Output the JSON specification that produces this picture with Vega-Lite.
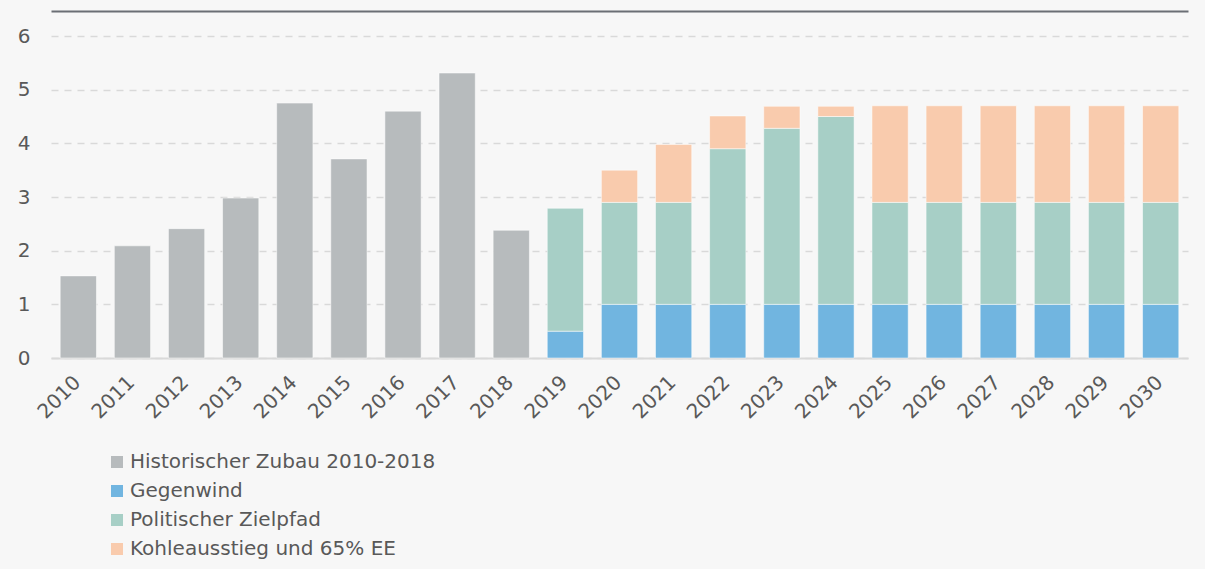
{
  "$schema": "https://vega.github.io/schema/vega-lite/v6.json",
  "width": 1137,
  "height": 322,
  "autosize": "none",
  "padding": {"left": 51, "top": 36, "right": 17, "bottom": 211},
  "background": "#f7f7f7",
  "config": {
    "font": "DejaVu Sans",
    "view": {"stroke": null},
    "axis": {"labelColor": "#595959", "labelFont": "DejaVu Sans"},
    "legend": {"labelFont": "DejaVu Sans"}
  },
  "data": {
    "values": [
      {"year": "2010", "series": "Historischer Zubau 2010-2018", "value": 1.53},
      {"year": "2011", "series": "Historischer Zubau 2010-2018", "value": 2.09},
      {"year": "2012", "series": "Historischer Zubau 2010-2018", "value": 2.41},
      {"year": "2013", "series": "Historischer Zubau 2010-2018", "value": 2.98},
      {"year": "2014", "series": "Historischer Zubau 2010-2018", "value": 4.75},
      {"year": "2015", "series": "Historischer Zubau 2010-2018", "value": 3.71},
      {"year": "2016", "series": "Historischer Zubau 2010-2018", "value": 4.6},
      {"year": "2017", "series": "Historischer Zubau 2010-2018", "value": 5.31},
      {"year": "2018", "series": "Historischer Zubau 2010-2018", "value": 2.38},
      {"year": "2019", "series": "Gegenwind", "value": 0.5},
      {"year": "2020", "series": "Gegenwind", "value": 1.0},
      {"year": "2021", "series": "Gegenwind", "value": 1.0},
      {"year": "2022", "series": "Gegenwind", "value": 1.0},
      {"year": "2023", "series": "Gegenwind", "value": 1.0},
      {"year": "2024", "series": "Gegenwind", "value": 1.0},
      {"year": "2025", "series": "Gegenwind", "value": 1.0},
      {"year": "2026", "series": "Gegenwind", "value": 1.0},
      {"year": "2027", "series": "Gegenwind", "value": 1.0},
      {"year": "2028", "series": "Gegenwind", "value": 1.0},
      {"year": "2029", "series": "Gegenwind", "value": 1.0},
      {"year": "2030", "series": "Gegenwind", "value": 1.0},
      {"year": "2019", "series": "Politischer Zielpfad", "value": 2.29},
      {"year": "2020", "series": "Politischer Zielpfad", "value": 1.9},
      {"year": "2021", "series": "Politischer Zielpfad", "value": 1.9},
      {"year": "2022", "series": "Politischer Zielpfad", "value": 2.9},
      {"year": "2023", "series": "Politischer Zielpfad", "value": 3.28},
      {"year": "2024", "series": "Politischer Zielpfad", "value": 3.5},
      {"year": "2025", "series": "Politischer Zielpfad", "value": 1.9},
      {"year": "2026", "series": "Politischer Zielpfad", "value": 1.9},
      {"year": "2027", "series": "Politischer Zielpfad", "value": 1.9},
      {"year": "2028", "series": "Politischer Zielpfad", "value": 1.9},
      {"year": "2029", "series": "Politischer Zielpfad", "value": 1.9},
      {"year": "2030", "series": "Politischer Zielpfad", "value": 1.9},
      {"year": "2020", "series": "Kohleausstieg und 65% EE", "value": 0.6},
      {"year": "2021", "series": "Kohleausstieg und 65% EE", "value": 1.08},
      {"year": "2022", "series": "Kohleausstieg und 65% EE", "value": 0.61},
      {"year": "2023", "series": "Kohleausstieg und 65% EE", "value": 0.41},
      {"year": "2024", "series": "Kohleausstieg und 65% EE", "value": 0.19},
      {"year": "2025", "series": "Kohleausstieg und 65% EE", "value": 1.8},
      {"year": "2026", "series": "Kohleausstieg und 65% EE", "value": 1.8},
      {"year": "2027", "series": "Kohleausstieg und 65% EE", "value": 1.8},
      {"year": "2028", "series": "Kohleausstieg und 65% EE", "value": 1.8},
      {"year": "2029", "series": "Kohleausstieg und 65% EE", "value": 1.8},
      {"year": "2030", "series": "Kohleausstieg und 65% EE", "value": 1.8}
    ]
  },
  "layer": [
    {
      "transform": [
        {"calculate": "indexof(['Historischer Zubau 2010-2018', 'Gegenwind', 'Politischer Zielpfad', 'Kohleausstieg und 65% EE'], datum.series)", "as": "stackOrder"}
      ],
      "mark": {"type": "bar", "stroke": "#ffffff", "strokeWidth": 1, "strokeOpacity": 0.5},
      "encoding": {
        "x": {
          "field": "year",
          "type": "ordinal",
          "scale": {"paddingInner": 0.33, "paddingOuter": 0.17},
          "axis": {
            "title": null,
            "labelAngle": -45,
            "labelFontSize": 20,
            "labelPadding": 14,
            "labelOffset": -8,
            "ticks": false,
            "domainColor": "#d9d9d9",
            "domainWidth": 2,
            "grid": false
          }
        },
        "y": {
          "field": "value",
          "type": "quantitative",
          "stack": "zero",
          "scale": {"domain": [0, 6], "nice": false},
          "axis": {
            "title": null,
            "values": [0, 1, 2, 3, 4, 5, 6],
            "labelFontSize": 20,
            "labelPadding": 21,
            "ticks": false,
            "domain": false,
            "gridColor": "#d9d9d9",
            "gridWidth": 1.5,
            "gridDash": [7, 6]
          }
        },
        "order": {"field": "stackOrder", "type": "quantitative", "sort": "ascending"},
        "color": {
          "field": "series",
          "type": "nominal",
          "scale": {
            "domain": ["Historischer Zubau 2010-2018", "Gegenwind", "Politischer Zielpfad", "Kohleausstieg und 65% EE"],
            "range": ["#b7bbbd", "#71b5e0", "#a7cfc6", "#f9cbad"]
          },
          "legend": {
            "title": null,
            "orient": "none",
            "legendX": 56,
            "legendY": 416,
            "direction": "vertical",
            "symbolType": "square",
            "symbolSize": 144,
            "symbolStrokeWidth": 0,
            "labelFontSize": 20,
            "labelColor": "#595959",
            "labelLimit": 600,
            "rowPadding": 9,
            "labelOffset": 3
          }
        }
      }
    },
    {
      "mark": {"type": "point", "opacity": 0},
      "encoding": {
        "x": {
          "field": "year",
          "type": "ordinal",
          "axis": {
            "orient": "top",
            "offset": 25,
            "title": null,
            "labels": false,
            "ticks": false,
            "grid": false,
            "domainColor": "#6b6f75",
            "domainWidth": 2
          }
        }
      }
    }
  ],
  "resolve": {"axis": {"x": "independent"}}
}
